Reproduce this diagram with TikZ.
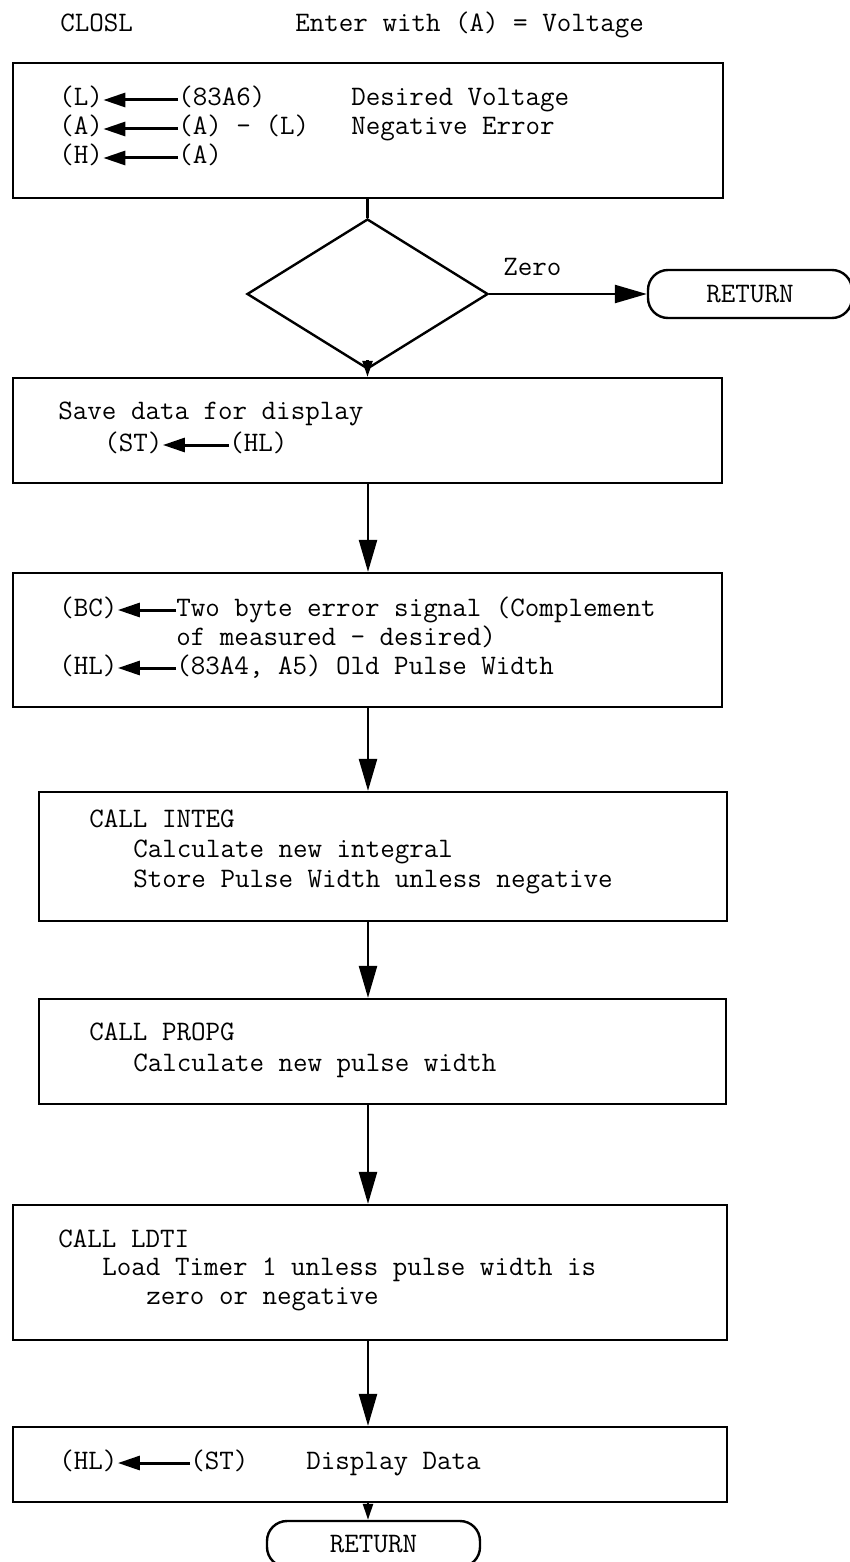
\documentclass[tikz,border=0pt]{standalone}
\usepackage{fontspec}
\usetikzlibrary{arrows.meta,shapes.geometric,calc}
\newcommand\fs{\ttfamily\fontsize{14.1pt}{16pt}\selectfont}
\tikzset{
  box/.style={draw, line width=1.1pt, inner sep=0pt},
  txt/.style={anchor=base west, inner sep=0pt, font=\fs, text height=9pt, text depth=3pt},
  flow/.style={line width=1.2pt, -{Triangle[length=16pt,width=9pt]}},
  sflow/.style={line width=1.2pt, -{Triangle[length=8pt,width=5pt]}},
  inarr/.style={line width=1.5pt, -{Triangle[length=11pt,width=7pt]}},
  term/.style={draw, line width=1.2pt, rounded corners=10pt, inner sep=0pt, font=\fs, text height=8pt, text depth=0pt},
}
\begin{document}
\begin{tikzpicture}[x=0.5pt,y=-0.5pt]
\path[use as bounding box] (0,0) rectangle (850,1562);
\coordinate (ax) at (368,0);

% title
\node[txt] (t1) at (60,32) {CLOSL};
\node[txt] (t2) at (295,32) {Enter with (A) = Voltage};

% box 1
\node[box, minimum width=355pt, minimum height=67.5pt] (b1) at (368,130.5) {};
\node[txt] (l1a) at (59,106) {(L)};
\node[txt] (l1b) at (178,106) {(83A6)};
\node[txt] (l1c) at (351,106) {Desired Voltage};
\node[txt] (l2a) at (59,135) {(A)};
\node[txt] (l2b) at (178,135) {(A) - (L)};
\node[txt] (l2c) at (351,135) {Negative Error};
\node[txt] (l3a) at (59,164) {(H)};
\node[txt] (l3b) at (178,164) {(A)};
\draw[inarr] (l1b.west) -- (l1a.east);
\draw[inarr] (l2b.west) -- (l2a.east);
\draw[inarr] (l3b.west) -- (l3a.east);

% decision
\node[draw, diamond, line width=1.2pt, minimum width=120.5pt, minimum height=75pt, inner sep=0pt] (dia) at (367.5,294) {};
\node[term, minimum width=102pt, minimum height=24pt] (ret1) at (750,294) {RETURN};
\node[txt] (zero) at (503,276) {Zero};
\draw[line width=1.2pt] (b1.south -| dia.north) -- (dia.north);
\draw[flow] (dia.east) -- (ret1.west);

% box 2
\node[box, minimum width=354.5pt, minimum height=52.5pt] (b2) at (367.5,430.5) {};
\node[txt] (s1) at (58,419) {Save data for display};
\node[txt] (s2a) at (104,451) {(ST)};
\node[txt] (s2b) at (229,451) {(HL)};
\draw[inarr] (s2b.west) -- (s2a.east);
\draw[sflow] ($(dia.south)+(0,-10)$) -- (dia.south |- b2.north);

% box 3
\node[box, minimum width=354.5pt, minimum height=67pt] (b3) at (367.5,640) {};
\node[txt] (c1a) at (59,616) {(BC)};
\node[txt] (c1b) at (176,616) {Two byte error signal (Complement};
\node[txt] (c2) at (176,645) {of measured - desired)};
\node[txt] (c3a) at (59,674) {(HL)};
\node[txt] (c3b) at (176,674) {(83A4, A5) Old Pulse Width};
\draw[inarr] (c1b.west) -- (c1a.east);
\draw[inarr] (c3b.west) -- (c3a.east);
\draw[flow] (b2.south -| ax) -- (b3.north -| ax);

% box 4
\node[box, minimum width=344pt, minimum height=64.5pt] (b4) at (383,856.5) {};
\node[txt] (i1) at (89,827) {CALL INTEG};
\node[txt] (i2) at (133,857) {Calculate new integral};
\node[txt] (i3) at (133,887) {Store Pulse Width unless negative};
\draw[flow] (b3.south -| ax) -- (b4.north -| ax);

% box 5
\node[box, minimum width=343.5pt, minimum height=52.5pt] (b5) at (382.5,1051.5) {};
\node[txt] (p1) at (89,1040) {CALL PROPG};
\node[txt] (p2) at (133,1071) {Calculate new pulse width};
\draw[flow] (b4.south -| ax) -- (b5.north -| ax);

% box 6
\node[box, minimum width=357pt, minimum height=67.5pt] (b6) at (370,1272.5) {};
\node[txt] (d1) at (58,1247) {CALL LDTI};
\node[txt] (d2) at (102,1275) {Load Timer 1 unless pulse width is};
\node[txt] (d3) at (146,1304) {zero or negative};
\draw[flow] (b5.south -| ax) -- (b6.north -| ax);

% box 7
\node[box, minimum width=357pt, minimum height=37.5pt] (b7) at (370,1464.5) {};
\node[txt] (e1a) at (59,1469) {(HL)};
\node[txt] (e1b) at (190,1469) {(ST)};
\node[txt] (e1c) at (306,1469) {Display Data};
\draw[inarr] (e1b.west) -- (e1a.east);
\draw[flow] (b6.south -| ax) -- (b7.north -| ax);

% final return
\node[term, minimum width=106.5pt, minimum height=23pt] (ret2) at (373.5,1544) {RETURN};
\draw[sflow] (b7.south -| ax) -- (ret2.north -| ax);
\end{tikzpicture}
\end{document}
